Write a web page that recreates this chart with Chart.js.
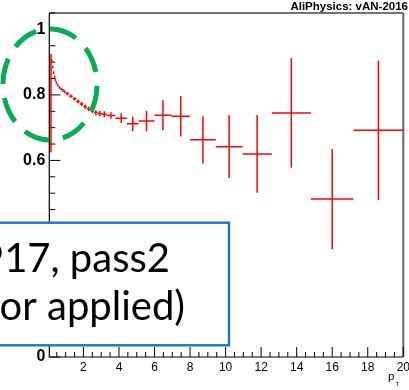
<!DOCTYPE html>
<html><head><meta charset="utf-8">
<script src="https://cdn.jsdelivr.net/npm/chart.js@4/dist/chart.umd.min.js"></script>
<style>html,body{margin:0;padding:0;background:#fff;overflow:hidden}#wrap{width:409px;height:390px;position:relative}</style>
</head><body><div id="wrap"><canvas id="c" width="409" height="390"></canvas></div>
<script>
// ---- data ----
const binLow  = [0.15,0.2,0.25,0.3,0.35,0.4,0.45,0.5,0.6,0.7,0.8,0.9,1.0,1.2,1.4,1.6,1.8,2.0,2.2,2.4,2.6,2.8,3.05,3.3,3.8,4.45,5.1,6.0,6.95,8.0,9.45,10.95,12.6,14.8,17.2];
const binHigh = [0.2,0.25,0.3,0.35,0.4,0.45,0.5,0.6,0.7,0.8,0.9,1.0,1.2,1.4,1.6,1.8,2.0,2.2,2.4,2.6,2.8,3.05,3.3,3.8,4.45,5.1,6.0,6.95,8.0,9.45,10.95,12.6,14.8,17.2,20];
const values  = [0.775,0.905,0.885,0.868,0.855,0.846,0.838,0.830,0.823,0.818,0.814,0.810,0.804,0.796,0.788,0.780,0.772,0.764,0.757,0.751,0.746,0.743,0.741,0.737,0.729,0.712,0.720,0.738,0.735,0.663,0.642,0.620,0.745,0.482,0.692];
const errors  = [0.15,0.004,0.004,0.004,0.004,0.004,0.004,0.004,0.004,0.004,0.004,0.004,0.005,0.005,0.005,0.006,0.006,0.006,0.007,0.007,0.008,0.008,0.009,0.010,0.015,0.022,0.032,0.046,0.062,0.072,0.096,0.119,0.167,0.153,0.213];
const xTickValues = [2,4,6,8,10,12,14,16,18,20];
const xTickLabels = ["2","4","6","8","10","12","14","16","18","20"];
const yTickValues = [0,0.2,0.4,0.6,0.8,1];
const yTickLabels = ["0","0.2","0.4","0.6","0.8","1"];
const xRange = [0.08, 20];
const yRange = [0, 1.05];
const xMinorStep = 0.5;
const yMinorStep = 0.05;
const titleText = "AliPhysics: vAN-2016";
const boxLines = ["917, pass2", "or applied)"];
const xTitleMain = "p";
const xTitleSub = "T";

const centers = binLow.map((l,i)=>(l+binHigh[i])/2);

const rootPlugin = {
  id: 'rootStyle',
  afterDraw(chart) {
    const ctx = chart.ctx, xs = chart.scales.x, ys = chart.scales.y, a = chart.chartArea;
    ctx.save();
    // frame
    ctx.lineCap = 'butt';
    ctx.strokeStyle = '#444'; ctx.lineWidth = 1.6;
    ctx.beginPath(); ctx.moveTo(a.left, a.top); ctx.lineTo(a.right, a.top); ctx.stroke();
    ctx.strokeStyle = '#666'; ctx.lineWidth = 2;
    ctx.beginPath(); ctx.moveTo(a.right, a.top); ctx.lineTo(a.right, a.bottom); ctx.stroke();
    ctx.strokeStyle = '#000'; ctx.lineWidth = 1.2;
    ctx.beginPath(); ctx.moveTo(a.left, a.top); ctx.lineTo(a.left, a.bottom); ctx.lineTo(a.right, a.bottom); ctx.stroke();
    // ticks
    ctx.lineWidth = 1;
    ctx.beginPath();
    for (let k = 0; k * yMinorStep <= yRange[1] + 1e-9; k++) {
      const v = k * yMinorStep;
      const major = yTickValues.some(t => Math.abs(t - v) < 1e-6);
      const y = ys.getPixelForValue(v);
      ctx.moveTo(a.left, y); ctx.lineTo(a.left + (major ? 11 : 6), y);
    }
    for (let k = 1; k * xMinorStep <= xRange[1] + 1e-9; k++) {
      const v = k * xMinorStep;
      const major = xTickValues.some(t => Math.abs(t - v) < 1e-6);
      const x = xs.getPixelForValue(v);
      ctx.moveTo(x, a.bottom); ctx.lineTo(x, a.bottom - (major ? 10 : 5));
    }
    ctx.stroke();
    // data with error bars
    ctx.strokeStyle = '#ff0000'; ctx.lineWidth = 1.5;
    ctx.beginPath();
    for (let i = 0; i < values.length; i++) {
      const xl = xs.getPixelForValue(binLow[i]);
      const xh = xs.getPixelForValue(binHigh[i]);
      const xc = xs.getPixelForValue(centers[i]);
      const y = ys.getPixelForValue(values[i]);
      const y1 = ys.getPixelForValue(values[i] + errors[i]);
      const y2 = ys.getPixelForValue(values[i] - errors[i]);
      ctx.moveTo(xl, y); ctx.lineTo(xh, y);
      ctx.moveTo(xc, y1); ctx.lineTo(xc, y2);
    }
    ctx.stroke();
    // title
    ctx.fillStyle = '#000';
    ctx.font = 'bold 11.5px "Liberation Sans", Arial, sans-serif';
    ctx.textAlign = 'right'; ctx.textBaseline = 'alphabetic';
    ctx.fillText(titleText, 408, 9.5);
    // axis title p_T
    ctx.textAlign = 'left';
    ctx.font = '11.5px "Liberation Sans", Arial, sans-serif';
    ctx.fillText(xTitleMain, 388, 379.5);
    ctx.font = '6px "Liberation Sans", Arial, sans-serif';
    ctx.fillText(xTitleSub, 395.5, 385.5);
    // blue annotation box (covers the lower part of the y axis)
    ctx.fillStyle = '#fff';
    ctx.fillRect(-10, 217, 56, 8);
    ctx.fillRect(-10, 222.7, 239, 122.6);
    ctx.strokeStyle = '#1b75c2'; ctx.lineWidth = 2.4;
    ctx.strokeRect(-10, 222.7, 239, 122.6);
    ctx.fillStyle = '#000';
    ctx.font = '40px Lato, "Open Sans", sans-serif';
    ctx.textAlign = 'right';
    ctx.fillText(boxLines[0], 170, 272);
    ctx.fillText(boxLines[1], 185, 320);
    // green dashed ellipse
    ctx.strokeStyle = '#00b050'; ctx.lineWidth = 5;
    ctx.setLineDash([26, 14]);
    ctx.beginPath();
    const s = -Math.PI/2 + 0.04;
    ctx.ellipse(50, 84.5, 47, 55.5, 0, s, s + 2*Math.PI);
    ctx.stroke();
    ctx.restore();
  }
};

new Chart(document.getElementById('c'), {
  type: 'scatter',
  data: { datasets: [{ data: centers.map((x,i)=>({x, y: values[i]})), pointRadius: 0, showLine: false }] },
  options: {
    responsive: false, animation: false, devicePixelRatio: 1,
    layout: { padding: { top: 13, right: 5.7, left: 0, bottom: 0 } },
    plugins: { legend: { display: false }, tooltip: { enabled: false } },
    scales: {
      x: {
        type: 'linear', min: xRange[0], max: xRange[1],
        grid: { display: false, drawTicks: false }, border: { display: false },
        afterBuildTicks: s => { s.ticks = xTickValues.map(v => ({ value: v })); },
        ticks: { autoSkip: false, maxRotation: 0, padding: 3, color: '#000',
          font: { family: '"Liberation Sans", Arial, sans-serif', size: 12 },
          callback: (v, i) => xTickLabels[i] },
        afterFit: s => { s.height = 33; s.paddingLeft = 0; s.paddingRight = 0; }
      },
      y: {
        type: 'linear', min: yRange[0], max: yRange[1],
        grid: { display: false, drawTicks: false }, border: { display: false },
        afterBuildTicks: s => { s.ticks = yTickValues.map(v => ({ value: v })); },
        ticks: { autoSkip: false, padding: 4, color: '#000',
          font: { family: '"Liberation Sans", Arial, sans-serif', size: 16, weight: 'bold' },
          callback: (v, i) => yTickLabels[i] },
        afterFit: s => { s.width = 49.3; s.paddingTop = 0; s.paddingBottom = 0; }
      }
    }
  },
  plugins: [rootPlugin]
});
</script></body></html>
